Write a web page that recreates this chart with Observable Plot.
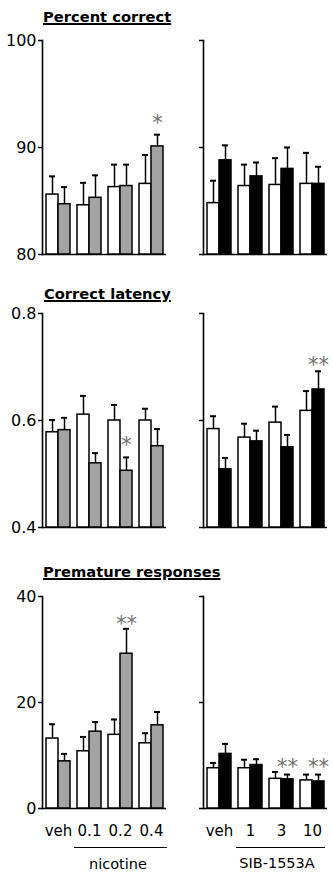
<!DOCTYPE html>
<html><head><meta charset="utf-8">
<script src="https://cdn.jsdelivr.net/npm/d3@7"></script>
<script src="https://cdn.jsdelivr.net/npm/@observablehq/plot@0.6"></script>
<style>
html,body{margin:0;padding:0;background:#fff;}
#chart{position:relative;width:333px;height:874px;font-family:"DejaVu Sans",Verdana,sans-serif;color:#000;}
.panel{position:absolute;}
.title{position:absolute;font-weight:bold;font-size:14.7px;text-decoration:underline;text-decoration-thickness:1.5px;line-height:1;white-space:nowrap;}
.bracket{position:absolute;border-top:1.5px solid #000;height:0;}
.blabel{position:absolute;font-size:14.5px;line-height:1;text-align:center;white-space:nowrap;}
</style></head><body><div id="chart"></div>
<script>
// ---- categories / tick labels ----
const nicDoses = ["veh", "0.1", "0.2", "0.4"];
const sibDoses = ["veh", "1", "3", "10"];
const pcTicks = [80, 90, 100];
const latTicks = [0.4, 0.6, 0.8];
const premTicks = [0, 20, 40];
const titles = ["Percent correct", "Correct latency", "Premature responses"];

// ---- Percent correct ----
const pcNicCtrl = [85.6, 84.6, 86.3, 86.6];
const pcNicCtrlSem = [1.7, 2.1, 2.1, 2.7];
const pcNicDrug = [84.7, 85.3, 86.4, 90.1];
const pcNicDrugSem = [1.6, 2.1, 2.0, 1.1];
const pcNicSig = ["", "", "", "*"];
const pcSibCtrl = [84.8, 86.4, 86.5, 86.6];
const pcSibCtrlSem = [2.1, 2.0, 2.5, 2.9];
const pcSibDrug = [88.8, 87.3, 88.0, 86.6];
const pcSibDrugSem = [1.4, 1.3, 2.0, 1.6];
const pcSibSig = ["", "", "", ""];

// ---- Correct latency ----
const latNicCtrl = [0.578, 0.611, 0.600, 0.600];
const latNicCtrlSem = [0.023, 0.035, 0.029, 0.022];
const latNicDrug = [0.582, 0.520, 0.506, 0.552];
const latNicDrugSem = [0.023, 0.019, 0.025, 0.032];
const latNicSig = ["", "", "*", ""];
const latSibCtrl = [0.584, 0.568, 0.596, 0.618];
const latSibCtrlSem = [0.024, 0.026, 0.030, 0.037];
const latSibDrug = [0.509, 0.561, 0.550, 0.658];
const latSibDrugSem = [0.021, 0.020, 0.023, 0.034];
const latSibSig = ["", "", "", "**"];

// ---- Premature responses ----
const premNicCtrl = [13.2, 10.8, 13.9, 12.3];
const premNicCtrlSem = [2.7, 2.7, 2.9, 1.9];
const premNicDrug = [8.9, 14.5, 29.2, 15.7];
const premNicDrugSem = [1.4, 1.8, 4.7, 2.5];
const premNicSig = ["", "", "**", ""];
const premSibCtrl = [7.6, 7.6, 5.6, 5.3];
const premSibCtrlSem = [1.0, 1.6, 1.3, 1.1];
const premSibDrug = [10.3, 8.2, 5.5, 5.1];
const premSibDrugSem = [1.9, 1.1, 0.9, 1.3];
const premSibSig = ["", "", "**", "**"];

const NIC_FILL = "#a3a3a3";
const SIB_FILL = "#000000";
const PAD_IN = 0.234, PAD_OUT = 0.096;

function makePanel(c) {
  const n = c.groups.length;
  const inner = c.width - c.marginLeft - c.marginRight;
  const step = inner / (n - PAD_IN + 2 * PAD_OUT);
  const bw = step * (1 - PAD_IN);
  const half = bw / 2, q = bw / 4, cap = 3;
  const lo = c.domain[0];
  const ctrl = c.groups.map((g, i) => ({g, v: c.ctrl[i], s: c.ctrlSem[i]}));
  const drug = c.groups.map((g, i) => ({g, v: c.drug[i], s: c.drugSem[i], sig: c.sig[i]}));
  const top = d => d.v + d.s;
  return Plot.plot({
    width: c.width, height: c.height,
    marginLeft: c.marginLeft, marginRight: c.marginRight,
    marginTop: c.marginTop, marginBottom: c.marginBottom,
    style: {fontFamily: "'DejaVu Sans', Verdana, sans-serif", fontSize: "16px", color: "#000", background: "transparent", overflow: "visible"},
    x: {domain: c.groups, paddingInner: PAD_IN, paddingOuter: PAD_OUT, axis: null},
    y: {domain: c.domain, axis: null},
    marks: [
      Plot.axisY({ticks: c.ticks, tickSize: 4, tickPadding: 2, strokeWidth: 1.5, label: null, fontSize: 16,
                  tickFormat: c.labels ? (d => String(d)) : (() => "")}),
      Plot.frame({anchor: "left", strokeWidth: 1.6}),
      Plot.ruleY([lo], {strokeWidth: 1.6}),
      Plot.ruleX(ctrl, {x: "g", y1: "v", y2: top, dx: -q, strokeWidth: 1.5}),
      Plot.tickY(ctrl, {x: "g", y: top, insetLeft: q - cap, insetRight: bw - q - cap, strokeWidth: 2}),
      Plot.ruleX(drug, {x: "g", y1: "v", y2: top, dx: q, strokeWidth: 1.5}),
      Plot.tickY(drug, {x: "g", y: top, insetLeft: bw - q - cap, insetRight: q - cap, strokeWidth: 2}),
      Plot.barY(ctrl, {x: "g", y1: () => lo, y2: "v", fill: "white", stroke: "black", strokeWidth: 1.5, insetRight: half}),
      Plot.barY(drug, {x: "g", y1: () => lo, y2: "v", fill: c.color, stroke: "black", strokeWidth: 1.5, insetLeft: half}),
      Plot.text(drug.filter(d => d.sig), {x: "g", y: top, text: "sig", dx: q, dy: c.starDy, fill: "#6e6e6e", fontSize: 21}),
      c.xLabels ? Plot.axisX({tickSize: 0, tickPadding: 17, fontSize: 15, label: null}) : null
    ]
  });
}

const chart = document.getElementById("chart");
function place(node, left, top) {
  node.classList.add("panel");
  node.style.left = left + "px";
  node.style.top = top + "px";
  chart.appendChild(node);
}
function addDiv(cls, text, styles) {
  const d = document.createElement("div");
  d.className = cls;
  if (text) d.textContent = text;
  Object.assign(d.style, styles);
  chart.appendChild(d);
}

const L = {width: 170, marginLeft: 42, marginRight: 4, labels: true, groups: nicDoses, color: NIC_FILL};
const R = {width: 163, marginLeft: 33, marginRight: 6, labels: false, groups: sibDoses, color: SIB_FILL};
const rowA = {height: 230, marginTop: 10, marginBottom: 6, xLabels: false};
const rowC = {height: 252, marginTop: 10, marginBottom: 30, xLabels: true};

// Row 1
place(makePanel({...L, ...rowA, domain: [80, 100], ticks: pcTicks, ctrl: pcNicCtrl, ctrlSem: pcNicCtrlSem, drug: pcNicDrug, drugSem: pcNicDrugSem, sig: pcNicSig, starDy: -11}), 0, 30);
place(makePanel({...R, ...rowA, domain: [80, 100], ticks: pcTicks, ctrl: pcSibCtrl, ctrlSem: pcSibCtrlSem, drug: pcSibDrug, drugSem: pcSibDrugSem, sig: pcSibSig, starDy: -8}), 170, 30);
// Row 2
place(makePanel({...L, ...rowA, domain: [0.4, 0.8], ticks: latTicks, ctrl: latNicCtrl, ctrlSem: latNicCtrlSem, drug: latNicDrug, drugSem: latNicDrugSem, sig: latNicSig, starDy: -12}), 0, 303);
place(makePanel({...R, ...rowA, domain: [0.4, 0.8], ticks: latTicks, ctrl: latSibCtrl, ctrlSem: latSibCtrlSem, drug: latSibDrug, drugSem: latSibDrugSem, sig: latSibSig, starDy: -6}), 170, 303);
// Row 3
place(makePanel({...L, ...rowC, domain: [0, 40], ticks: premTicks, ctrl: premNicCtrl, ctrlSem: premNicCtrlSem, drug: premNicDrug, drugSem: premNicDrugSem, sig: premNicSig, starDy: -5}), 0, 586);
place(makePanel({...R, ...rowC, domain: [0, 40], ticks: premTicks, ctrl: premSibCtrl, ctrlSem: premSibCtrlSem, drug: premSibDrug, drugSem: premSibDrugSem, sig: premSibSig, starDy: -7}), 170, 586);

// Titles
addDiv("title", titles[0], {left: "43px", top: "9.6px"});
addDiv("title", titles[1], {left: "44px", top: "286.6px"});
addDiv("title", titles[2], {left: "43px", top: "564.6px"});

// Drug brackets and names
addDiv("bracket", "", {left: "74px", top: "847px", width: "93px"});
addDiv("bracket", "", {left: "236px", top: "847px", width: "89px"});
addDiv("blabel", "nicotine", {left: "68px", top: "857px", width: "100px"});
addDiv("blabel", "SIB-1553A", {left: "227px", top: "856px", width: "100px"});
</script>
</body></html>
